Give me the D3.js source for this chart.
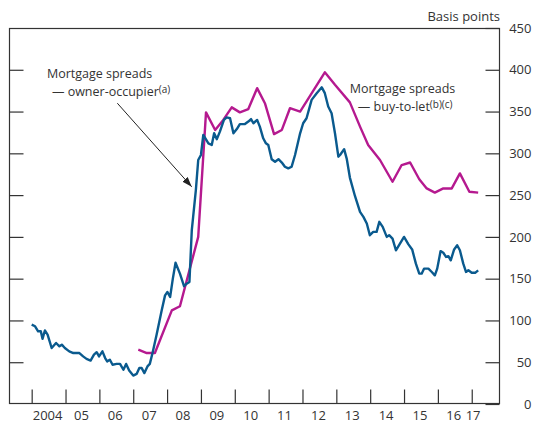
<!DOCTYPE html>
<html>
<head>
<meta charset="utf-8">
<script src="https://cdn.jsdelivr.net/npm/d3@7/dist/d3.min.js"></script>
<style>
  body { margin: 0; background: #fff; }
  svg text { font-family: "Open Sans", sans-serif; fill: #333; }
</style>
</head>
<body>
<div id="root"></div>
<script>
// owner-occupier spread (monthly-ish, decimal years)
const ownerDates = [
  2004.00, 2004.10, 2004.19, 2004.27, 2004.32, 2004.39, 2004.47, 2004.59, 2004.72, 2004.82,
  2004.89, 2004.98, 2005.11, 2005.23, 2005.41, 2005.52, 2005.62, 2005.74, 2005.84, 2005.92,
  2005.99, 2006.09, 2006.17, 2006.23, 2006.31, 2006.39, 2006.51, 2006.61, 2006.71, 2006.79,
  2006.88, 2007.00, 2007.10, 2007.18, 2007.25, 2007.33, 2007.42, 2007.49, 2007.57, 2007.69,
  2007.84, 2007.94, 2008.01, 2008.09, 2008.17, 2008.25, 2008.38, 2008.50, 2008.58, 2008.66,
  2008.73, 2008.77, 2008.85, 2008.92, 2009.00, 2009.07, 2009.22, 2009.32, 2009.39, 2009.47,
  2009.56, 2009.68, 2009.76, 2009.86, 2009.96, 2010.06, 2010.15, 2010.30, 2010.40, 2010.48,
  2010.55, 2010.66, 2010.74, 2010.84, 2010.92, 2010.99, 2011.09, 2011.19, 2011.29, 2011.39,
  2011.48, 2011.58, 2011.68, 2011.78, 2011.93, 2012.02, 2012.12, 2012.27, 2012.42, 2012.57,
  2012.66, 2012.76, 2012.86, 2012.96, 2013.06, 2013.11, 2013.23, 2013.31, 2013.40, 2013.55,
  2013.70, 2013.80, 2013.90, 2013.99, 2014.09, 2014.19, 2014.27, 2014.37, 2014.49, 2014.56,
  2014.66, 2014.76, 2014.88, 2015.00, 2015.13, 2015.24, 2015.35, 2015.45, 2015.52, 2015.59,
  2015.72, 2015.82, 2015.91, 2015.98, 2016.08, 2016.16, 2016.24, 2016.31, 2016.38, 2016.48,
  2016.57, 2016.65, 2016.75, 2016.83, 2016.90, 2017.00, 2017.10, 2017.19
];
const ownerValues = [
  95, 93, 87, 87, 78, 88, 83, 67, 73, 69,
  71, 67, 63, 61, 61, 57, 54, 52, 59, 62,
  57, 63, 55, 51, 53, 47, 48, 48, 41, 48,
  40, 34, 36, 43, 43, 37, 45, 48, 61, 83,
  112, 130, 134, 128, 150, 169, 156, 141, 144, 146,
  208, 224, 256, 292, 298, 322, 312, 310, 324, 317,
  326, 340, 343, 342, 324, 329, 335, 335, 338, 341,
  336, 340, 332, 318, 312, 310, 293, 290, 293, 289,
  284, 282, 284, 298, 324, 336, 342, 364, 372, 379,
  372, 356, 348, 324, 296, 298, 305, 293, 271, 249,
  230, 224, 216, 202, 206, 206, 218, 212, 200, 202,
  198, 184, 192, 200, 191, 185, 168, 156, 156, 162,
  162, 158, 154, 162, 183, 181, 176, 177, 172, 185,
  190, 184, 168, 158, 160, 157, 157, 160
];

// buy-to-let spread
const btlDates = [
  2007.15, 2007.40, 2007.64, 2008.14, 2008.38, 2008.92, 2009.15, 2009.42, 2009.66, 2009.91,
  2010.15, 2010.40, 2010.66, 2010.89, 2011.16, 2011.39, 2011.63, 2011.93, 2012.66, 2012.96,
  2013.40, 2013.70, 2013.94, 2014.29, 2014.66, 2014.93, 2015.18, 2015.45, 2015.67, 2015.91,
  2016.16, 2016.41, 2016.65, 2016.93, 2017.19
];
const btlValues = [
  65, 61, 61, 112, 117, 200, 349, 328, 340, 355,
  349, 353, 378, 360, 323, 328, 354, 350, 397, 382,
  361, 332, 310, 292, 266, 286, 289, 269, 258, 253,
  258, 258, 276, 254, 253
];

const years = d3.range(2004, 2018);
const yearLabels = ['2004', '05', '06', '07', '08', '09', '10', '11', '12', '13', '14', '15', '16', '17'];
const yTicks = d3.range(0, 451, 50);

const blue = '#0a5a8e';
const magenta = '#b5198f';

const W = 533, H = 425;
const box = { left: 9, right: 500, top: 28, bottom: 404 };

const svg = d3.select('#root').append('svg')
  .attr('width', W)
  .attr('height', H);

const x = d3.scaleLinear()
  .domain([2003.33, 2017.835])
  .range([box.left, box.right]);

const y = d3.scaleLinear()
  .domain([0, 450])
  .range([box.bottom, box.top]);

// frame
svg.append('rect')
  .attr('x', box.left + 0.5)
  .attr('y', box.top + 0.5)
  .attr('width', box.right - box.left - 1)
  .attr('height', box.bottom - box.top - 1)
  .attr('fill', 'none')
  .attr('stroke', '#333')
  .attr('stroke-width', 1.2);

// right axis (labels outside, ticks inside)
const rightAxis = svg.append('g')
  .attr('transform', 'translate(' + (box.right - 0.5) + ',0)')
  .call(d3.axisRight(y).tickValues(yTicks).tickSize(-14).tickPadding(8));
rightAxis.select('.domain').remove();
rightAxis.selectAll('line').attr('stroke', '#333').attr('stroke-width', 1.2);
rightAxis.selectAll('text')
  .attr('text-anchor', 'end')
  .attr('x', 532 - box.right)
  .style('font-size', '13px');

// left ticks
const leftAxis = svg.append('g')
  .attr('transform', 'translate(' + (box.left + 0.5) + ',0)')
  .call(d3.axisLeft(y).tickValues(yTicks.slice(1, -1)).tickSize(-14).tickFormat(''));
leftAxis.select('.domain').remove();
leftAxis.selectAll('line').attr('stroke', '#333').attr('stroke-width', 1.2);

// bottom ticks
const bottomAxis = svg.append('g')
  .attr('transform', 'translate(0,' + (box.bottom - 0.5) + ')')
  .call(d3.axisBottom(x).tickValues(years).tickSize(-14).tickFormat(''));
bottomAxis.select('.domain').remove();
bottomAxis.selectAll('line').attr('stroke', '#333').attr('stroke-width', 1.2);

// year labels, centred in each year; the last (partial) year sits by its tick
svg.append('g').selectAll('text')
  .data(years)
  .enter()
  .append('text')
    .attr('x', (d, i) => i === years.length - 1 ? x(d + 0.04) : x(d + 0.47))
    .attr('y', 420)
    .attr('text-anchor', 'middle')
    .style('font-size', '13px')
    .text((d, i) => yearLabels[i]);

svg.append('text')
  .attr('x', box.right)
  .attr('y', 21)
  .attr('text-anchor', 'end')
  .style('font-size', '13px')
  .text('Basis points');

// series
const ownerData = ownerDates.map((d, i) => ({ date: d, value: ownerValues[i] }));
const btlData = btlDates.map((d, i) => ({ date: d, value: btlValues[i] }));

const line = d3.line()
  .x((d) => x(d.date))
  .y((d) => y(d.value));

svg.append('path')
  .datum(btlData)
  .attr('d', line)
  .attr('fill', 'none')
  .attr('stroke', magenta)
  .attr('stroke-width', 2.4)
  .attr('stroke-linejoin', 'round');

svg.append('path')
  .datum(ownerData)
  .attr('d', line)
  .attr('fill', 'none')
  .attr('stroke', blue)
  .attr('stroke-width', 2.4)
  .attr('stroke-linejoin', 'round');

// annotations
function addLabel(lines, sup, px, py, dx2) {
  const t = svg.append('text').style('font-size', '12.5px');
  t.append('tspan').attr('x', px).attr('y', py).text(lines[0]);
  t.append('tspan').attr('x', px + dx2).attr('y', py + 17.5).text(lines[1]);
  t.append('tspan').attr('dy', -3).style('font-size', '10px').text(sup);
}

addLabel(['Mortgage spreads', '\u2014 owner-occupier'], '(a)', x(2004.45), y(390), 5);
addLabel(['Mortgage spreads', '\u2014 buy-to-let'], '(b)(c)', x(2013.40), y(372), 8);

// arrow
svg.append('defs').append('marker')
  .attr('id', 'arrowhead')
  .attr('markerUnits', 'userSpaceOnUse')
  .attr('markerWidth', 10)
  .attr('markerHeight', 7)
  .attr('refX', 10)
  .attr('refY', 3.5)
  .attr('orient', 'auto')
  .append('path')
    .attr('d', 'M0,0 L10,3.5 L0,7 Z')
    .attr('fill', '#222');

svg.append('line')
  .attr('x1', x(2006.53))
  .attr('y1', y(360))
  .attr('x2', x(2008.727))
  .attr('y2', y(260))
  .attr('stroke', '#222')
  .attr('stroke-width', 1)
  .attr('marker-end', 'url(#arrowhead)');
</script>
</body>
</html>
